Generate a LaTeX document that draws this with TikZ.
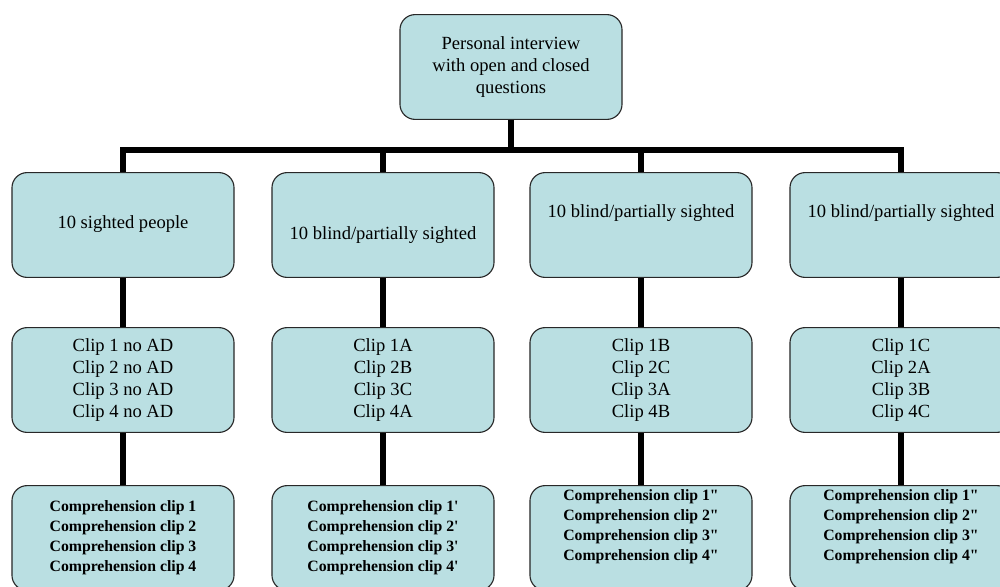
\documentclass[tikz,border=0pt]{standalone}
\usepackage{fontspec}
\setmainfont{Liberation Serif}
\definecolor{boxfill}{RGB}{186,223,226}
\definecolor{boxline}{RGB}{40,40,40}
\tikzset{
  box/.style={draw=boxline, fill=boxfill, line width=0.8pt, rounded corners=0.38cm,
    minimum width=5.55cm, minimum height=2.62cm},
  txt/.style={align=center, font=\fontsize{13.2}{15.6}\selectfont},
  small/.style={align=left, font=\fontsize{11.2}{14.2}\selectfont\bfseries},
  link/.style={line width=3.6pt}
}
\begin{document}
\begin{tikzpicture}[x=0.025cm, y=-0.025cm]
\clip (0,0) rectangle (1000,586);

% top
\node[box] (top) at (511,67) {};
\node[txt] (topt) at (511,67) {Personal interview\\with open and closed\\questions};

% groups
\node[box] (g1) at (123,225) {};
\node[box] (g2) at (383,225) {};
\node[box] (g3) at (641,225) {};
\node[box] (g4) at (901,225) {};
\node[txt] (g1t) at (123,224) {10 sighted people};
\node[txt] (g2t) at (383,235) {10 blind/partially sighted};
\node[txt] (g3t) at (641,213) {10 blind/partially sighted};
\node[txt] (g4t) at (901,213) {10 blind/partially sighted};

% clips
\node[box,txt] (c1) at (123,380) {Clip 1 no AD\\Clip 2 no AD\\Clip 3 no AD\\Clip 4 no AD};
\node[box,txt] (c2) at (383,380) {Clip 1A\\Clip 2B\\Clip 3C\\Clip 4A};
\node[box,txt] (c3) at (641,380) {Clip 1B\\Clip 2C\\Clip 3A\\Clip 4B};
\node[box,txt] (c4) at (901,380) {Clip 1C\\Clip 2A\\Clip 3B\\Clip 4C};

% comprehension
\node[box] (q1) at (123,538) {};
\node[box] (q2) at (383,538) {};
\node[box] (q3) at (641,538) {};
\node[box] (q4) at (901,538) {};
\node[small] (q1t) at (123,538) {Comprehension clip 1\\Comprehension clip 2\\Comprehension clip 3\\Comprehension clip 4};
\node[small] (q2t) at (383,538) {Comprehension clip 1\textquotesingle\\Comprehension clip 2\textquotesingle\\Comprehension clip 3\textquotesingle\\Comprehension clip 4\textquotesingle};
\node[small] (q3t) at (641,527) {Comprehension clip 1\textquotedbl\\Comprehension clip 2\textquotedbl\\Comprehension clip 3\textquotedbl\\Comprehension clip 4\textquotedbl};
\node[small] (q4t) at (901,527) {Comprehension clip 1\textquotedbl\\Comprehension clip 2\textquotedbl\\Comprehension clip 3\textquotedbl\\Comprehension clip 4\textquotedbl};

% connectors
\coordinate (hub) at (511,150);
\draw[link] (top.south) -- (hub);
\draw[link] (hub) -| (g1.north);
\draw[link] (hub) -| (g2.north);
\draw[link] (hub) -| (g3.north);
\draw[link] (hub) -| (g4.north);
\foreach \i in {1,2,3,4} {
  \draw[link] (g\i.south) -- (c\i.north);
  \draw[link] (c\i.south) -- (q\i.north);
}

\end{tikzpicture}
\end{document}
